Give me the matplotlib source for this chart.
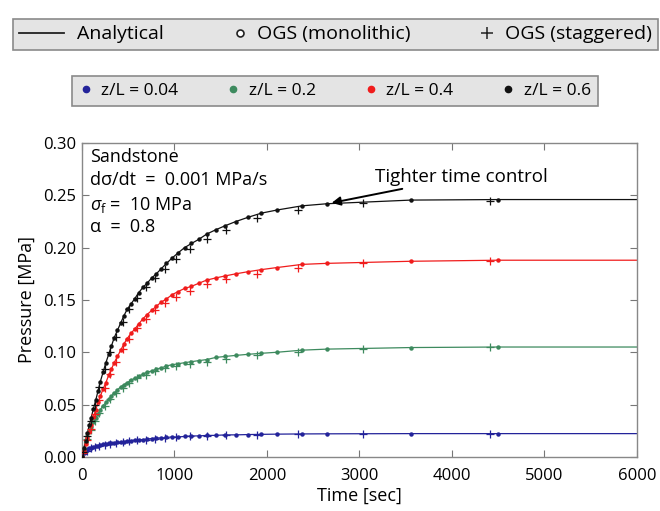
import matplotlib
matplotlib.use("Agg")
import matplotlib.pyplot as plt
from matplotlib.lines import Line2D
from matplotlib.legend_handler import HandlerLine2D
import numpy as np

plt.rcParams['font.family'] = ['Open Sans', 'DejaVu Sans']
plt.rcParams['mathtext.fontset'] = 'custom'
plt.rcParams['mathtext.rm'] = 'Open Sans'
plt.rcParams['mathtext.it'] = 'Open Sans:italic'

# ---------------- data ----------------
series_labels = ["z/L = 0.04", "z/L = 0.2", "z/L = 0.4", "z/L = 0.6"]
series_colors = ["#23239a", "#3d8a5e", "#f01c1c", "#111111"]

t_mono = [0, 20, 40, 60, 80, 100, 125, 150, 175, 200, 230, 260, 290, 320, 350,
          385, 420, 455, 490, 530, 570, 615, 660, 705, 755, 805, 860, 915, 975,
          1040, 1110, 1185, 1265, 1350, 1445, 1550, 1665, 1795, 1940, 2110,
          2380, 2650, 3560, 4500]

p_mono_004 = [0.000, 0.004, 0.006, 0.007, 0.008, 0.008, 0.009, 0.010, 0.010, 0.011,
              0.012, 0.012, 0.013, 0.013, 0.0135, 0.014, 0.014, 0.0145, 0.015, 0.0155,
              0.016, 0.016, 0.0165, 0.017, 0.0175, 0.018, 0.018, 0.0185, 0.019, 0.019,
              0.0195, 0.020, 0.020, 0.0205, 0.0205, 0.021, 0.021, 0.0213, 0.0215, 0.0217,
              0.0219, 0.022, 0.0222, 0.0222]
p_mono_02 = [0.000, 0.007, 0.014, 0.020, 0.025, 0.029, 0.033, 0.037, 0.041, 0.045,
             0.049, 0.052, 0.055, 0.058, 0.061, 0.064, 0.067, 0.069, 0.071, 0.073,
             0.075, 0.077, 0.079, 0.081, 0.082, 0.084, 0.085, 0.087, 0.088, 0.089,
             0.090, 0.091, 0.092, 0.093, 0.095, 0.096, 0.097, 0.098, 0.099, 0.100,
             0.102, 0.103, 0.1045, 0.105]
p_mono_04 = [0.000, 0.006, 0.012, 0.018, 0.024, 0.030, 0.038, 0.045, 0.052, 0.058,
             0.065, 0.071, 0.078, 0.084, 0.090, 0.096, 0.102, 0.108, 0.113, 0.118,
             0.122, 0.127, 0.132, 0.136, 0.140, 0.144, 0.148, 0.151, 0.155, 0.158,
             0.161, 0.163, 0.166, 0.169, 0.171, 0.173, 0.175, 0.177, 0.179, 0.181,
             0.184, 0.185, 0.187, 0.188]
p_mono_06 = [0.000, 0.008, 0.015, 0.023, 0.030, 0.037, 0.046, 0.054, 0.063, 0.072,
             0.081, 0.090, 0.098, 0.106, 0.114, 0.121, 0.128, 0.135, 0.141, 0.146,
             0.151, 0.157, 0.162, 0.166, 0.171, 0.175, 0.180, 0.185, 0.190, 0.195,
             0.200, 0.204, 0.208, 0.213, 0.217, 0.221, 0.225, 0.229, 0.233, 0.236,
             0.240, 0.242, 0.2455, 0.246]

t_stag = [15, 55, 95, 140, 190, 245, 305, 370, 440, 515, 600, 690, 790, 900,
          1020, 1170, 1350, 1560, 1890, 2340, 3040, 4410]

p_stag_004 = [0.003, 0.006, 0.008, 0.009, 0.010, 0.011, 0.012, 0.013, 0.014, 0.015,
              0.016, 0.0165, 0.0175, 0.018, 0.019, 0.0195, 0.020, 0.0205, 0.021,
              0.0218, 0.022, 0.0222]
p_stag_02 = [0.005, 0.017, 0.026, 0.034, 0.042, 0.049, 0.055, 0.061, 0.066, 0.071,
             0.075, 0.078, 0.082, 0.085, 0.087, 0.089, 0.091, 0.094, 0.097, 0.100,
             0.103, 0.105]
p_stag_04 = [0.004, 0.016, 0.027, 0.041, 0.054, 0.066, 0.079, 0.091, 0.103, 0.113,
             0.123, 0.132, 0.140, 0.147, 0.153, 0.159, 0.165, 0.170, 0.175, 0.181,
             0.185, 0.1875]
p_stag_06 = [0.005, 0.020, 0.034, 0.050, 0.067, 0.084, 0.100, 0.115, 0.129, 0.141,
             0.152, 0.162, 0.171, 0.180, 0.189, 0.199, 0.208, 0.217, 0.228, 0.236,
             0.2425, 0.245]

# analytical curves: pass through the monolithic points, plateau to the end
t_end = 6000
p_end = [0.0222, 0.105, 0.188, 0.246]

mono = [p_mono_004, p_mono_02, p_mono_04, p_mono_06]
stag = [p_stag_004, p_stag_02, p_stag_04, p_stag_06]

x_ticks = [0, 1000, 2000, 3000, 4000, 5000, 6000]
y_ticks = [0.00, 0.05, 0.10, 0.15, 0.20, 0.25, 0.30]


class HandlerRightMarker(HandlerLine2D):
    """Marker-only legend handle drawn near the right end of the handle box."""
    def create_artists(self, legend, orig_handle, xdescent, ydescent, width,
                       height, fontsize, trans):
        arts = super().create_artists(legend, orig_handle, xdescent, ydescent,
                                      width, height, fontsize, trans)
        xpos = width - xdescent - 0.25 * fontsize
        for a in arts:
            a.set_xdata([xpos] * len(a.get_xdata()))
        return arts


# ---------------- figure ----------------
fig = plt.figure(figsize=(6.6, 5.11), dpi=100)
ax = fig.add_axes([0.124, 0.106, 0.841, 0.614])

for pm, ps, pe, c in zip(mono, stag, p_end, series_colors):
    ax.plot(list(t_mono) + [t_end], list(pm) + [pe], '-', color=c, lw=0.9, zorder=2)
    ax.plot(t_mono, pm, 'o', color=c, ms=2.2, mec=c, zorder=3)
    ax.plot(t_stag, ps, '+', color=c, ms=5.5, mew=0.9, zorder=3)

ax.set_xlim(0, 6000)
ax.set_ylim(0, 0.30)
ax.set_xticks(x_ticks)
ax.set_yticks(y_ticks)
ax.set_xticklabels([str(v) for v in x_ticks])
ax.set_yticklabels([f"{v:.2f}" for v in y_ticks])
ax.tick_params(direction='in', length=5, width=0.8, top=True, right=True,
               labelsize=12, color='#777777', pad=4)
ax.tick_params(axis='x', pad=8)
for s in ax.spines.values():
    s.set_color('#888888')
    s.set_linewidth(1.0)
ax.set_xlabel("Time [sec]", fontsize=13, labelpad=2)
ax.set_ylabel("Pressure [MPa]", fontsize=13, labelpad=5)

# parameter text block
txt_kw = dict(transform=ax.transAxes, fontsize=13, va='center', ha='left')
ax.text(0.014, 0.955, "Sandstone", **txt_kw)
ax.text(0.014, 0.882, "d\u03c3/dt  =  0.001 MPa/s", **txt_kw)
ax.text(0.014, 0.803, "$\\sigma_\\mathrm{f}$ =  10 MPa", **txt_kw)
ax.text(0.014, 0.733, "\u03b1  =  0.8", **txt_kw)

ax.annotate("Tighter time control", xy=(2700, 0.2428), xytext=(3170, 0.2675),
            fontsize=13.5, ha='left', va='center',
            arrowprops=dict(arrowstyle='-|>', color='k', lw=1.4,
                            mutation_scale=13, shrinkA=0, shrinkB=0))

# legends
h1 = [Line2D([], [], color='#222222', lw=1.3),
      Line2D([], [], ls='none', marker='o', mfc='white', mec='#222222', ms=5, mew=1.2),
      Line2D([], [], ls='none', marker='+', color='#222222', ms=8, mew=1.1)]
l1 = ["Analytical", "OGS (monolithic)", "OGS (staggered)"]
hm = {h1[1]: HandlerRightMarker(numpoints=1), h1[2]: HandlerRightMarker(numpoints=1)}
leg1 = fig.legend(h1, l1, loc='lower left', ncol=3, mode='expand',
                  bbox_to_anchor=(0.0192, 0.902, 0.978, 0.08), fontsize=14,
                  frameon=True, fancybox=False, facecolor='#e4e4e4',
                  edgecolor='#8a8a8a', framealpha=1, handlelength=2.3,
                  handletextpad=0.65, borderpad=0.34, borderaxespad=0,
                  handler_map=hm)
leg1.get_frame().set_linewidth(1.2)

h2 = [Line2D([], [], ls='none', marker='o', color=c, ms=4.5) for c in series_colors]
leg2 = fig.legend(h2, series_labels, loc='lower left', ncol=4, mode='expand',
                  bbox_to_anchor=(0.109, 0.792, 0.797, 0.07), fontsize=12.5,
                  frameon=True, fancybox=False, facecolor='#e4e4e4',
                  edgecolor='#8a8a8a', framealpha=1, handlelength=0.8,
                  handletextpad=0.5, borderpad=0.4, borderaxespad=0)
leg2.get_frame().set_linewidth(1.2)

fig.savefig("out.png", dpi=100)
